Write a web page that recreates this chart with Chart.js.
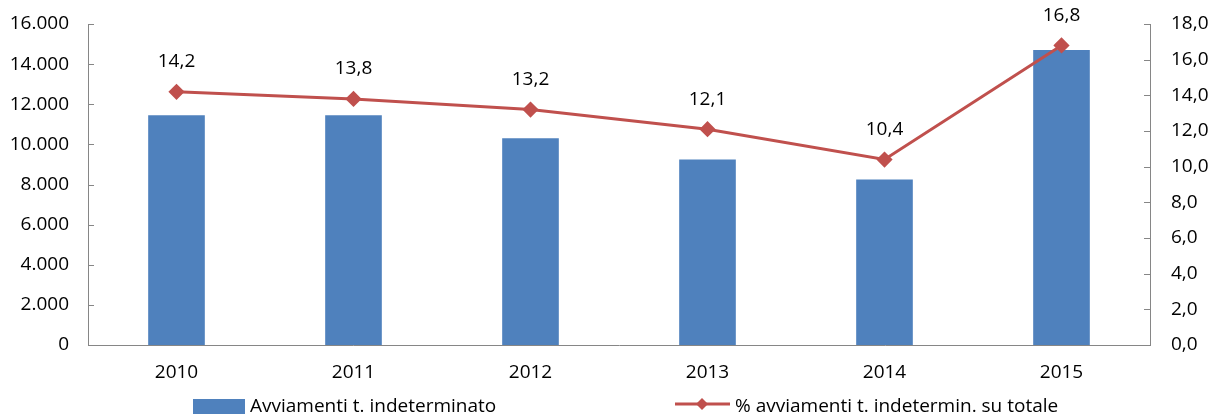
<!DOCTYPE html>
<html>
<head>
<meta charset="utf-8">
<script src="https://cdn.jsdelivr.net/npm/chart.js@4/dist/chart.umd.min.js"></script>
<style>
  html, body { margin: 0; padding: 0; background: #fff; }
  #wrap { width: 1210px; height: 414px; }
</style>
</head>
<body>
<div id="wrap"><canvas id="avvChart" width="1210" height="414"></canvas></div>
<script>
const years = ["2010", "2011", "2012", "2013", "2014", "2015"];
const avviamenti = [11450, 11450, 10300, 9250, 8250, 14700];
const percentuale = [14.2, 13.8, 13.2, 12.1, 10.4, 16.8];
const labelBar = "Avviamenti t. indeterminato";
const labelLine = "% avviamenti t. indetermin. su totale";

const blue = "#4F81BD";
const red = "#C0504D";
const axisGray = "#868686";
const FONT = "'Open Sans', 'Liberation Sans', sans-serif";
const FSIZE = 19;

const fmtThousands = v => Number(v).toLocaleString("it-IT");
const fmtPct = v => Number(v).toFixed(1).replace(".", ",");

// short inward tick marks on both value axes
const innerTicks = {
  id: "innerTicks",
  afterDatasetsDraw(chart) {
    const ctx = chart.ctx;
    const area = chart.chartArea;
    ctx.save();
    ctx.strokeStyle = axisGray;
    ctx.lineWidth = 1;
    ["y", "y1"].forEach(id => {
      const sc = chart.scales[id];
      sc.ticks.forEach(t => {
        const py = Math.round(sc.getPixelForValue(t.value)) + 0.5;
        ctx.beginPath();
        if (id === "y") {
          ctx.moveTo(area.left, py);
          ctx.lineTo(area.left + 6, py);
        } else {
          ctx.moveTo(area.right - 6, py);
          ctx.lineTo(area.right, py);
        }
        ctx.stroke();
      });
    });
    ctx.restore();
  }
};

// value labels above the line points
const pointLabels = {
  id: "pointLabels",
  afterDatasetsDraw(chart) {
    const ctx = chart.ctx;
    const meta = chart.getDatasetMeta(1);
    ctx.save();
    ctx.font = FSIZE + "px " + FONT;
    ctx.fillStyle = "#000";
    ctx.textAlign = "center";
    ctx.textBaseline = "middle";
    meta.data.forEach((pt, i) => {
      ctx.fillText(fmtPct(percentuale[i]), pt.x, pt.y - 30);
    });
    ctx.restore();
  }
};

// legend along the bottom edge
const bottomLegend = {
  id: "bottomLegend",
  afterDraw(chart) {
    const ctx = chart.ctx;
    const y = 407;
    ctx.save();
    ctx.font = FSIZE + "px " + FONT;
    ctx.textBaseline = "middle";

    ctx.fillStyle = blue;
    ctx.fillRect(193, 399, 52, 16);
    ctx.fillStyle = "#000";
    ctx.fillText(labelBar, 250, y);

    ctx.strokeStyle = red;
    ctx.lineWidth = 3;
    ctx.beginPath();
    ctx.moveTo(675, 404);
    ctx.lineTo(730, 404);
    ctx.stroke();
    ctx.fillStyle = red;
    ctx.beginPath();
    ctx.moveTo(702, 398);
    ctx.lineTo(708, 404);
    ctx.lineTo(702, 410);
    ctx.lineTo(696, 404);
    ctx.closePath();
    ctx.fill();
    ctx.fillStyle = "#000";
    ctx.fillText(labelLine, 735, y);
    ctx.restore();
  }
};

// fixed axis box sizes so the plot area sits at a set place
const fixY = w => s => { s.width = w; s.paddingTop = 0; s.paddingBottom = 0; };

new Chart(document.getElementById("avvChart"), {
  data: {
    labels: years,
    datasets: [
      {
        type: "bar",
        label: labelBar,
        data: avviamenti,
        backgroundColor: blue,
        yAxisID: "y",
        categoryPercentage: 1,
        barPercentage: 0.32,
        order: 2
      },
      {
        type: "line",
        label: labelLine,
        data: percentuale,
        borderColor: red,
        backgroundColor: red,
        borderWidth: 3,
        pointStyle: "rectRot",
        pointRadius: 6,
        pointHoverRadius: 6,
        tension: 0,
        yAxisID: "y1",
        order: 1
      }
    ]
  },
  options: {
    responsive: false,
    animation: false,
    layout: { padding: { top: 24, left: 0, right: 0, bottom: 0 } },
    plugins: {
      legend: { display: false },
      tooltip: { enabled: false }
    },
    scales: {
      x: {
        grid: { display: false, drawTicks: false },
        border: { color: axisGray, width: 1 },
        ticks: { color: "#000", font: { size: FSIZE, family: FONT }, padding: 16 },
        afterFit: s => { s.height = 69; s.paddingLeft = 0; s.paddingRight = 0; }
      },
      y: {
        position: "left",
        min: 0,
        max: 16000,
        grid: { display: false, drawTicks: false },
        border: { color: axisGray, width: 1 },
        ticks: {
          stepSize: 2000,
          color: "#000",
          font: { size: FSIZE, family: FONT },
          padding: 19,
          callback: v => fmtThousands(v)
        },
        afterFit: fixY(88)
      },
      y1: {
        position: "right",
        min: 0,
        max: 18,
        grid: { display: false, drawTicks: false },
        border: { color: axisGray, width: 1 },
        ticks: {
          stepSize: 2,
          color: "#000",
          font: { size: FSIZE, family: FONT },
          padding: 21,
          callback: v => fmtPct(v)
        },
        afterFit: fixY(60)
      }
    }
  },
  plugins: [innerTicks, pointLabels, bottomLegend]
});
</script>
</body>
</html>
